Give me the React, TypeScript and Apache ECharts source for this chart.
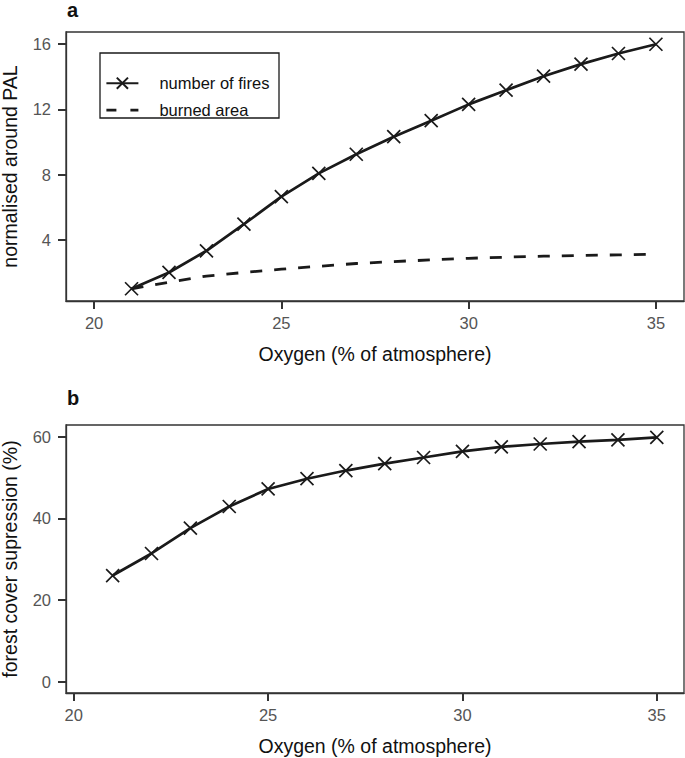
import React, { useEffect, useRef } from "react";
import * as echarts from "echarts";

const oxygen = [21, 22, 23, 24, 25, 26, 27, 28, 29, 30, 31, 32, 33, 34, 35];
const numberOfFires = [1.0, 2.0, 3.33, 4.96, 6.65, 8.08, 9.25, 10.33, 11.31, 12.31, 13.18, 14.04, 14.78, 15.43, 16.0];
const burnedArea = [1.0, 1.4, 1.78, 2.0, 2.2, 2.38, 2.55, 2.67, 2.77, 2.87, 2.94, 3.0, 3.04, 3.08, 3.12];
const forestSuppression = [26.0, 31.4, 37.6, 42.9, 47.2, 49.7, 51.7, 53.4, 54.9, 56.4, 57.5, 58.2, 58.8, 59.2, 59.8];

const xTicksA = [20, 25, 30, 35];
const yTicksA = [4, 8, 12, 16];
const xTicksB = [20, 25, 30, 35];
const yTicksB = [0, 20, 40, 60];

const seriesNames = ["number of fires", "burned area", "forest cover supression"];
const xTitle = "Oxygen (% of atmosphere)";
const yTitleA = "normalised around PAL";
const yTitleB = "forest cover supression (%)";

const FONT = "'Liberation Sans', Arial, Helvetica, sans-serif";
const X_SYMBOL = "path://M0,0L10,10M10,0L0,10";

function xAxisCfg(gridIndex: number, min: number, max: number, ticks: number[]) {
  return {
    type: "value",
    gridIndex,
    min,
    max,
    name: xTitle,
    nameLocation: "middle",
    nameGap: 43,
    nameTextStyle: { color: "#111", fontSize: 19.5, fontFamily: FONT },
    axisLine: { show: true, onZero: false, lineStyle: { color: "#333", width: 1.3 } },
    axisTick: { show: true, length: 8, customValues: ticks, lineStyle: { color: "#333", width: 2 } },
    axisLabel: { customValues: ticks, margin: 13.5, color: "#555", fontSize: 16.5, fontFamily: FONT },
    splitLine: { show: false },
  };
}

function yAxisCfg(gridIndex: number, min: number, max: number, ticks: number[], title: string) {
  return {
    type: "value",
    gridIndex,
    min,
    max,
    name: title,
    nameLocation: "middle",
    nameRotate: 90,
    nameGap: 46,
    nameTextStyle: { color: "#111", fontSize: 19.5, fontFamily: FONT },
    axisLine: { show: true, onZero: false, lineStyle: { color: "#333", width: 1.3 } },
    axisTick: { show: true, length: 8, customValues: ticks, lineStyle: { color: "#333", width: 2 } },
    axisLabel: { customValues: ticks, margin: 15, color: "#555", fontSize: 16.5, fontFamily: FONT },
    splitLine: { show: false },
  };
}

export default function App() {
  const ref = useRef<HTMLDivElement>(null);
  useEffect(() => {
    if (!ref.current) return;
    const chart = echarts.init(ref.current, undefined, { renderer: "svg" });
    const pairs = (ys: number[]) => oxygen.map((x, i) => [x, ys[i]]);
    chart.setOption({
      animation: false,
      backgroundColor: "#ffffff",
      textStyle: { fontFamily: FONT },
      grid: [
        { left: 66, top: 32, width: 618, height: 269, show: true, borderColor: "#333", borderWidth: 1.3, backgroundColor: "transparent", containLabel: false, outerBoundsMode: "none" },
        { left: 66, top: 425, width: 618, height: 268, show: true, borderColor: "#333", borderWidth: 1.3, backgroundColor: "transparent", containLabel: false, outerBoundsMode: "none" },
      ],
      xAxis: [xAxisCfg(0, 19.25, 35.75, xTicksA), xAxisCfg(1, 19.8, 35.7, xTicksB)],
      yAxis: [yAxisCfg(0, 0.25, 16.75, yTicksA, yTitleA), yAxisCfg(1, -2.75, 62.85, yTicksB, yTitleB)],
      legend: {
        data: [
          { name: seriesNames[0] },
          {
            name: seriesNames[1],
            itemStyle: { color: "rgba(0,0,0,0)", borderColor: "rgba(0,0,0,0)", borderWidth: 0 },
            lineStyle: { type: [10, 14], width: 2.8, color: "#1a1a1a" },
          },
        ],
        orient: "vertical",
        left: 105,
        top: 74.7,
        padding: 0,
        itemWidth: 32,
        itemHeight: 14,
        itemGap: 10,
        selectedMode: false,
        textStyle: { color: "#111", fontSize: 16.5, fontFamily: FONT, padding: [0, 0, 0, 16] },
      },
      graphic: [
        {
          type: "rect",
          shape: { x: 100, y: 53, width: 179, height: 65 },
          style: { fill: "none", stroke: "#1a1a1a", lineWidth: 1.3 },
          z: 10,
        },
        {
          type: "text",
          x: 67,
          y: 9.8,
          style: { text: "a", font: `bold 20px ${FONT}`, fill: "#111", verticalAlign: "middle" },
        },
        {
          type: "text",
          x: 67,
          y: 398,
          style: { text: "b", font: `bold 20px ${FONT}`, fill: "#111", verticalAlign: "middle" },
        },
      ],
      series: [
        {
          name: seriesNames[0],
          type: "line",
          xAxisIndex: 0,
          yAxisIndex: 0,
          data: pairs(numberOfFires),
          symbol: X_SYMBOL,
          symbolSize: 13,
          showSymbol: true,
          lineStyle: { color: "#1a1a1a", width: 2.7 },
          itemStyle: { color: "none", borderColor: "#1a1a1a", borderWidth: 1.7 },
          z: 3,
        },
        {
          name: seriesNames[1],
          type: "line",
          xAxisIndex: 0,
          yAxisIndex: 0,
          data: pairs(burnedArea),
          symbol: "none",
          lineStyle: { color: "#1a1a1a", width: 2.8, type: [12, 12] },
          itemStyle: { color: "#1a1a1a" },
          z: 2,
        },
        {
          name: seriesNames[2],
          type: "line",
          xAxisIndex: 1,
          yAxisIndex: 1,
          data: pairs(forestSuppression),
          symbol: X_SYMBOL,
          symbolSize: 13,
          showSymbol: true,
          lineStyle: { color: "#1a1a1a", width: 2.7 },
          itemStyle: { color: "none", borderColor: "#1a1a1a", borderWidth: 1.7 },
        },
      ],
    });
    return () => chart.dispose();
  }, []);
  return (
    <div
      ref={ref}
      style={{ position: "absolute", left: 0, top: 0, width: 685, height: 758 }}
    />
  );
}
